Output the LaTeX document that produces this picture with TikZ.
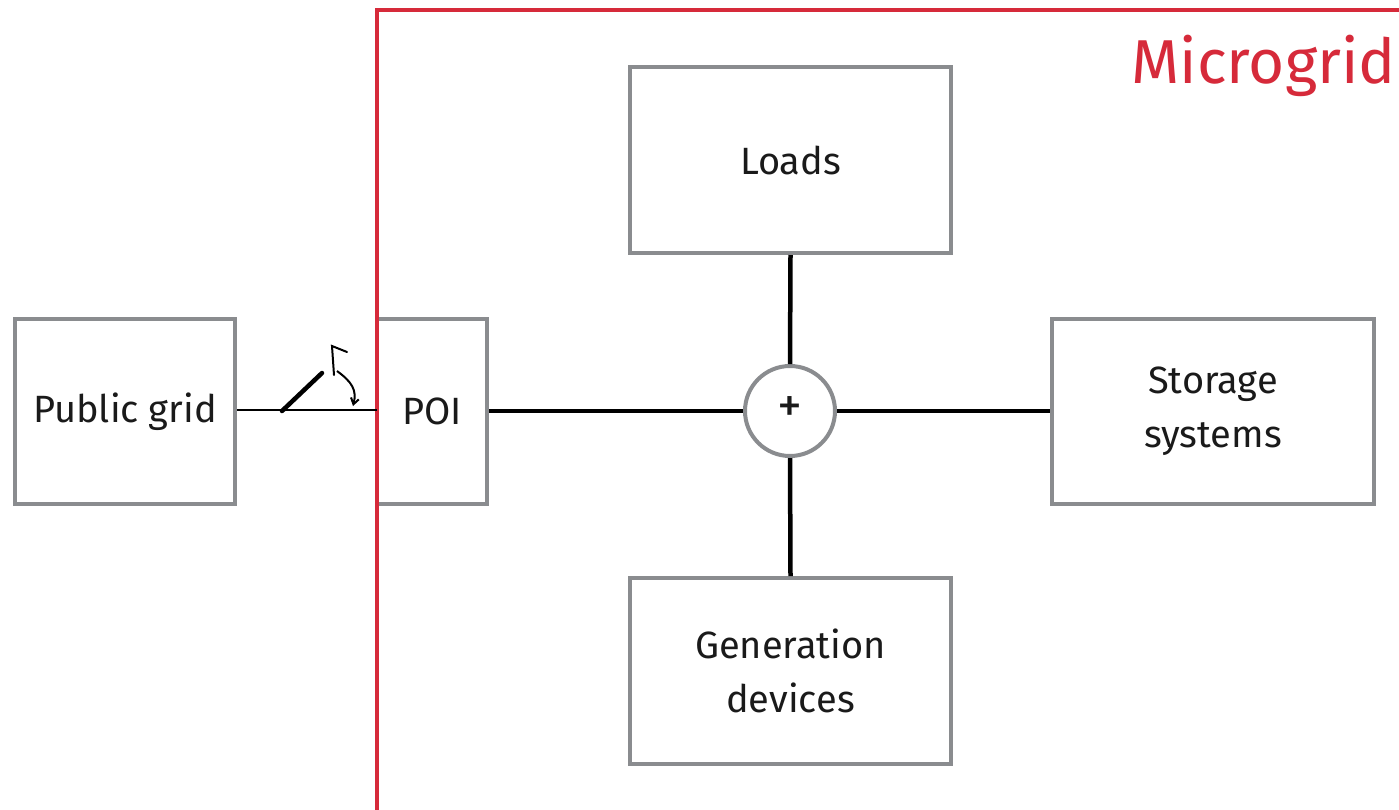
\documentclass[tikz,border=0pt]{standalone}
\usepackage{fontspec}
\setmainfont{Fira Sans}
\usetikzlibrary{arrows.meta}
\definecolor{boxgray}{HTML}{8A8C8F}
\definecolor{mgred}{HTML}{D62A3A}
\definecolor{txt}{HTML}{1A1A1A}
\tikzset{
  blk/.style={draw=boxgray, line width=4pt, fill=white, inner sep=0pt, text=txt, font=\fontsize{38}{54}\selectfont, align=center},
  conn/.style={line width=4.5pt, black},
}
\begin{document}
\begin{tikzpicture}[x=1pt,y=-1pt]
\useasboundingbox (0,0) rectangle (1399,809);
\fill[white] (0,0) rectangle (1399,809);
% microgrid frame
\begin{scope}
\clip (0,0) rectangle (1399,809);
\draw[mgred, line width=4pt] (377,820) -- (377,10) -- (1410,10);
\end{scope}
\node[mgred, anchor=base east, font=\fontsize{62}{70}\selectfont, inner sep=0pt] (mg) at (1396,83) {Microgrid};
% blocks
\node[blk, minimum width=220pt, minimum height=185pt] (pg) at (125,411.5) {Public grid};
\node[blk, minimum width=110pt, minimum height=185pt] (poi) at (432,411.5) {POI};
\draw[mgred, line width=4pt] (377,300) -- (377,520);
\node[blk, minimum width=321pt, minimum height=186pt] (loads) at (790.5,160) {\raisebox{-4pt}{Loads}};
\node[blk, minimum width=322pt, minimum height=185pt] (stor) at (1213,411.5) {Storage\\systems};
\node[blk, minimum width=321pt, minimum height=186pt] (gen) at (790.5,671) {Generation\\devices};
\node[circle, draw=boxgray, line width=4pt, fill=white, minimum size=90pt, inner sep=0pt, text=txt] (sum) at (790,411) {\fontsize{50}{50}\selectfont\raisebox{2pt}{+}};
% connectors
\draw[conn] (poi.east |- sum) -- (sum.west);
\draw[conn] (sum.east) -- (stor.west |- sum);
\draw[conn] (sum.north) -- (loads.south);
\draw[conn] (sum.south) -- (gen.north);
\coordinate (pgr) at (pg.east |- 0,410);
\coordinate (poil) at (377,410);
\draw[line width=2.2pt, black] (pgr) -- (poil);
% switch sketch
\coordinate (s1) at (282,411);
\coordinate (s2) at (322,373);
\draw[line width=4.5pt, line cap=round] (s1) -- (s2);
\draw[line width=2pt, line cap=round] (334,375) -- (332,346) -- (347,352);
\draw[line width=2pt, -{Straight Barb[length=6pt,width=8pt]}] (337,371) .. controls (352,382) and (357,390) .. (353,406);
\end{tikzpicture}
\end{document}
